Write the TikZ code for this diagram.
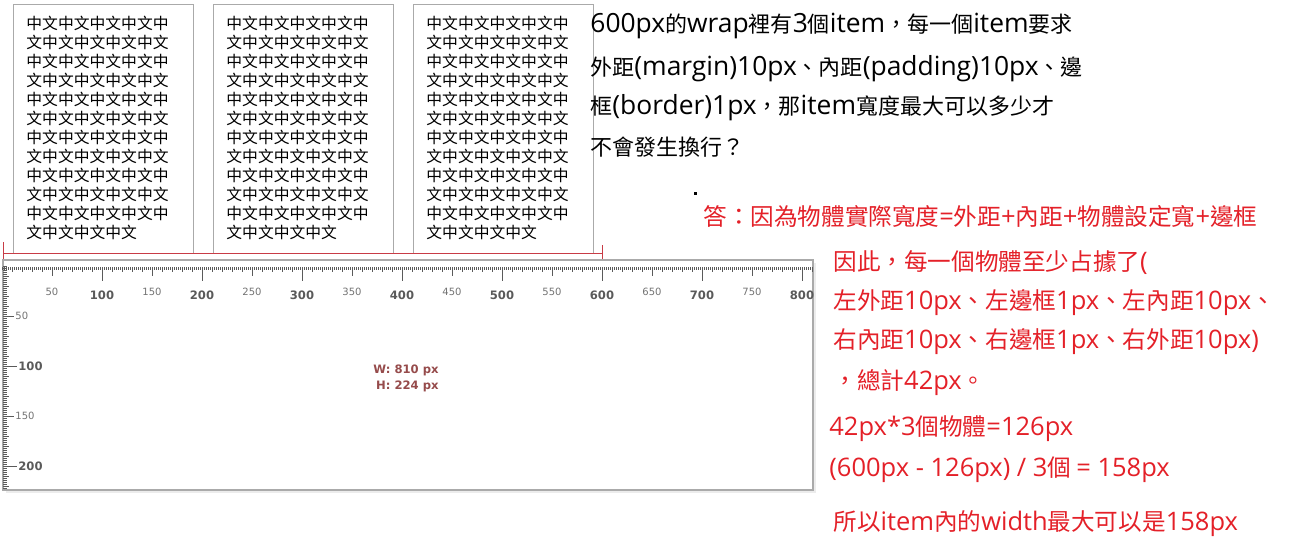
\documentclass[tikz,border=0pt]{standalone}
\usepackage{fontspec}
\setmainfont{Noto Sans CJK TC}
\newfontfamily\cjkfont{Noto Sans CJK TC}
\newfontfamily\rulerfont{DejaVu Sans}
\newfontfamily\qlatin[Scale=1.2]{Open Sans}
\newfontfamily\alatin[Scale=1.08]{Open Sans}
\usetikzlibrary{positioning}

% CJK characters switch font by themselves, Latin runs use \curlatin
\newXeTeXintercharclass\CJKcls
\newcount\cjkc
\cjkc="3000 \loop \XeTeXcharclass\cjkc=\CJKcls \ifnum\cjkc<"303F \advance\cjkc by 1 \repeat
\cjkc="4E00 \loop \XeTeXcharclass\cjkc=\CJKcls \ifnum\cjkc<"9FFF \advance\cjkc by 1 \repeat
\cjkc="FF00 \loop \XeTeXcharclass\cjkc=\CJKcls \ifnum\cjkc<"FF60 \advance\cjkc by 1 \repeat
\let\curlatin\relax
\XeTeXinterchartoks 0 \CJKcls = {\cjkfont}
\XeTeXinterchartoks 4095 \CJKcls = {\cjkfont}
\XeTeXinterchartoks \CJKcls 0 = {\curlatin}
\XeTeXinterchartoks 4095 0 = {\curlatin}

\definecolor{framegray}{RGB}{170,170,170}
\definecolor{markred}{RGB}{200,60,70}
\definecolor{ansred}{RGB}{228,32,40}
\definecolor{sizebrown}{RGB}{150,75,75}
\definecolor{tickgray}{RGB}{90,90,90}

\newcommand\fillrows{中文中文中文中文中\\文中文中文中文中文\\中文中文中文中文中\\文中文中文中文中文\\中文中文中文中文中\\文中文中文中文中文\\中文中文中文中文中\\文中文中文中文中文\\中文中文中文中文中\\文中文中文中文中文\\中文中文中文中文中\\文中文中文中文}

\tikzset{
  itembox/.style={draw=framegray, line width=0.5pt},
  boxtext/.style={anchor=north west, inner sep=0pt, align=left, font=\fontsize{7.9}{9.5}\selectfont},
  rulertick/.style={tickgray, line width=0.3pt},
  minorlbl/.style={inner sep=0pt, text=gray!90!black, font={\rulerfont\fontsize{5}{6}\selectfont}},
  majorlbl/.style={inner sep=0pt, text=tickgray, font={\rulerfont\bfseries\fontsize{5.8}{7}\selectfont}},
  question/.style={anchor=west, inner sep=0pt,
    font={\fontsize{11}{13}\selectfont\let\curlatin\qlatin\XeTeXinterchartokenstate=1 \curlatin}},
  answer/.style={anchor=west, inner sep=0pt, text=ansred,
    font={\fontsize{11.8}{14}\selectfont\let\curlatin\alatin\XeTeXinterchartokenstate=1 \curlatin}},
}

\begin{document}
\begin{tikzpicture}[x=0.5pt, y=-0.5pt]
    \useasboundingbox (0,0) rectangle (1297,543);
    \fill[white] (0,0) rectangle (1297,543);

    % Three items
    \foreach \i/\bx in {1/13,2/213,3/413} {
        \draw[itembox] (\bx,4) rectangle (\bx+180,253);
        \node[boxtext] (item\i) at (\bx+13,16) {\fillrows};
    }

    % Wrap width marker
    \draw[markred, line width=0.5pt] (3,253) -- (602,253);
    \draw[markred, line width=0.5pt] (3,242) -- (3,260);
    \draw[markred, line width=0.5pt] (602,245) -- (602,260);

    % Ruler window
    \fill[gray!15] (6,263) rectangle (816,493);
    \draw[framegray, fill=white, line width=0.6pt] (3,260) rectangle (813,490);

    % Top ruler ticks
    \foreach \v in {0,2,...,810} \draw[rulertick] (2+\v,267) -- (2+\v,270);
    \foreach \v in {10,20,...,810} \draw[rulertick] (2+\v,267) -- (2+\v,272);
    \foreach \v in {50,150,...,750} \draw[rulertick] (2+\v,267) -- (2+\v,276);
    \foreach \v in {100,200,...,800} \draw[rulertick] (2+\v,267) -- (2+\v,281);

    % Left ruler ticks
    \foreach \v in {0,2,...,222} \draw[rulertick] (3,266+\v) -- (7,266+\v);
    \foreach \v in {10,20,...,220} \draw[rulertick] (3,266+\v) -- (9,266+\v);
    \foreach \v in {50,150} \draw[rulertick] (3,266+\v) -- (14,266+\v);
    \foreach \v in {100,200} \draw[rulertick] (3,266+\v) -- (17,266+\v);

    % Ruler labels
    \foreach \v in {50,150,...,750} \node[minorlbl] (top\v) at (2+\v,292) {\v};
    \foreach \v in {100,200,...,800} \node[majorlbl] (top\v) at (2+\v,295) {\v};
    \foreach \v in {50,150} \node[minorlbl, anchor=west] (side\v) at (15,266+\v) {\v};
    \foreach \v in {100,200} \node[majorlbl, anchor=west] (side\v) at (18,266+\v) {\v};

    % Selection size
    \node[inner sep=0pt, align=right, anchor=east, text=sizebrown,
          font={\rulerfont\bfseries\fontsize{5.8}{8}\selectfont}] (size) at (439,378)
          {W: 810 px\\H: 224 px};

    % Question
    \node[question] (q1) at (590,26) {600px的wrap裡有3個item，每一個item要求};
    \node[question] (q2) at (590,69) {外距(margin)10px、內距(padding)10px、邊};
    \node[question] (q3) at (590,108) {框(border)1px，那item寬度最大可以多少才};
    \node[question] (q4) at (590,147) {不會發生換行？};
    \fill (694,192) rectangle (697,195);

    % Answer
    \node[answer] (a0) at (703,216) {答：因為物體實際寬度=外距+內距+物體設定寬+邊框};
    \node[answer] (a1) at (833,263) {因此，每一個物體至少占據了(};
    \node[answer] (a2) at (833,303) {左外距10px、左邊框1px、左內距10px、};
    \node[answer] (a3) at (833,342) {右內距10px、右邊框1px、右外距10px)};
    \node[answer] (a4) at (833,383) {，總計42px。};
    \node[answer] (a5) at (829,429) {42px*3個物體=126px};
    \node[answer] (a6) at (829,470) {(600px - 126px) / 3個 = 158px};
    \node[answer] (a7) at (833,524) {所以item內的width最大可以是158px};
\end{tikzpicture}
\end{document}
